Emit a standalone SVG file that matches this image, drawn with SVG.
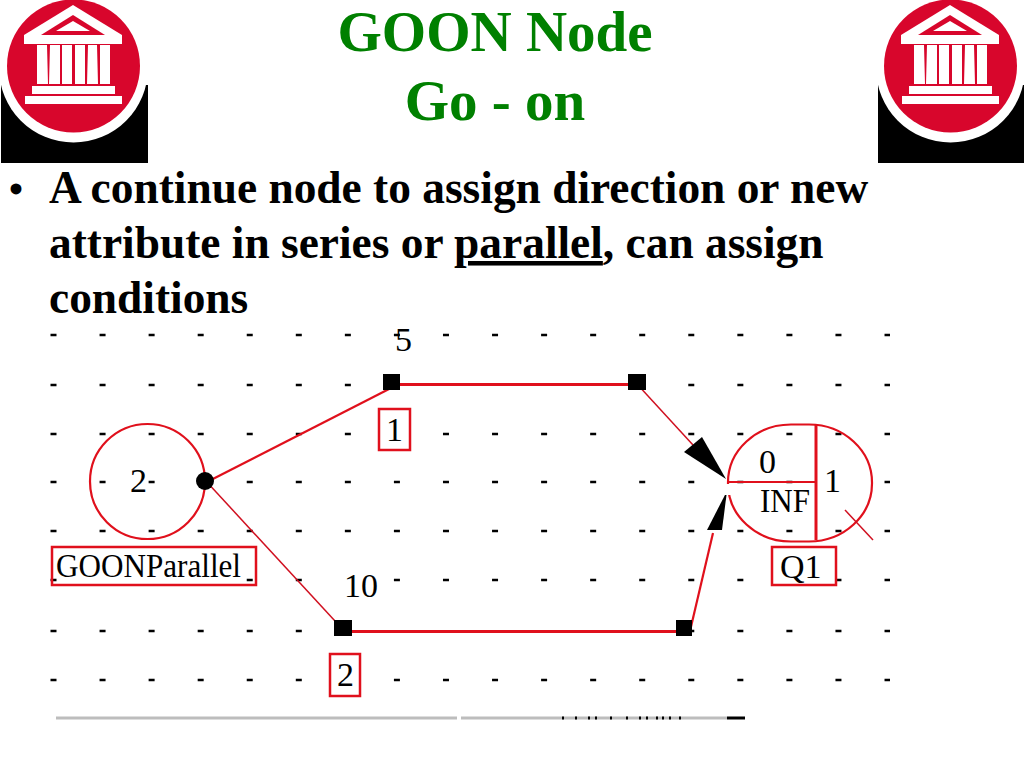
<svg xmlns="http://www.w3.org/2000/svg" width="1024" height="768" viewBox="0 0 1024 768">
<style>
.title{font:bold 57px "Liberation Serif",serif;fill:#008000;text-anchor:middle}
.body{font:bold 45.400px "Liberation Serif",serif;fill:#000}
.lab{font:34px "Liberation Serif",serif;fill:#000}
.grid{stroke:#000;stroke-width:2.5;stroke-dasharray:6 43.06;fill:none}
.box{fill:none;stroke:#e0101c;stroke-width:2.5}
.wire{fill:none;stroke:#e0101c;stroke-width:2.200}
.thin{fill:none;stroke:#d01020;stroke-width:1.500}
.thick{fill:none;stroke:#e0101c;stroke-width:3}
.cover{fill:#fff}
</style>
<defs>
<g id="icon">
<rect x="1" y="85" width="147" height="78" fill="#000"/>
<circle cx="73.500" cy="68" r="74.500" fill="#fff"/>
<circle cx="73.500" cy="66" r="66.500" fill="#d8062c"/>
<path d="M73 5L24 35V44H122V35Z" fill="#fff"/>
<path d="M73 15L41 35H105Z" fill="#d8062c"/>
<path d="M73 21L56 31H90Z" fill="#fff"/>
<path d="M37 45h10l1 39H37zM50 45h10v39H49zM62 45h10v39H62zM75 45h10v39H75zM88 45h9l1 39H87zM100 45h10v39H100z" fill="#fff"/>
<rect x="32" y="86" width="83" height="8" fill="#fff"/>
<rect x="25" y="96" width="97" height="8" fill="#fff"/>
</g>
</defs>
<rect width="1024" height="768" fill="#fff"/>
<use href="#icon" id="icon-left"/>
<use href="#icon" id="icon-right" x="877"/>
<text class="title" x="495" y="51">GOON Node</text>
<text class="title" x="495" y="120">Go - on</text>
<text class="body" x="9" y="203" style="font-size:40px">•</text>
<text class="body" x="49" y="203">A continue node to assign direction or new</text>
<text class="body" x="49" y="258">attribute in series or <tspan text-decoration="underline">parallel</tspan>, can assign</text>
<text class="body" x="49" y="313">conditions</text>
<g id="grid">
<path class="grid" d="M50.500 335H890M50.500 385H890M50.500 434H890M50.500 482H890M50.500 531H890M50.500 580H890M50.500 631H890M50.500 680H890"/>
<rect class="cover" x="60" y="552" width="180" height="30"/>
<rect class="cover" x="340" y="572" width="34" height="16"/>
<rect class="cover" x="776" y="552" width="30" height="30"/>
<rect class="cover" x="383" y="426" width="24" height="20"/>
<rect class="cover" x="336" y="672" width="20" height="18"/>
<rect class="cover" x="825" y="476" width="20" height="12"/>
<rect class="cover" x="395" y="382" width="240" height="6"/>
<rect class="cover" x="348" y="628" width="334" height="6"/>
</g>
<g id="connectors">
<path class="wire" d="M205 483L391 388"/>
<path class="thin" d="M205 480L335 621"/>
<path class="thick" d="M391 384.500H637"/>
<path class="thin" d="M637 384L693 445"/>
<path class="thick" d="M343 631.500H684"/>
<path class="wire" d="M690 631L713 533"/>
<path d="M726 479L684 452L702 437Z" fill="#000"/>
<path d="M727 491L722 530H707Z" fill="#000"/>
</g>
<g id="node-goon">
<circle class="wire" cx="147.500" cy="481.500" r="57.500"/>
<circle cx="205" cy="481" r="9" fill="#000"/>
<text class="lab" x="130" y="492">2</text>
<rect class="box" x="52" y="547" width="204" height="38"/>
<text class="lab" x="56" y="577" textLength="185" lengthAdjust="spacingAndGlyphs">GOONParallel</text>
</g>
<g id="node-a1">
<rect x="383" y="374" width="17" height="16" fill="#000"/>
<text class="lab" x="395" y="351">5</text>
<rect class="box" x="379" y="409" width="31" height="41"/>
<text class="lab" x="386" y="441">1</text>
</g>
<g id="node-a1b"><rect x="628" y="374" width="18" height="16" fill="#000"/></g>
<g id="node-a2">
<rect x="334" y="620" width="18" height="16" fill="#000"/>
<text class="lab" x="344" y="597">10</text>
<rect class="box" x="330" y="654" width="30" height="42"/>
<text class="lab" x="337" y="686">2</text>
</g>
<g id="node-a2b"><rect x="676" y="620" width="16" height="16" fill="#000"/></g>
<g id="node-q1">
<rect class="wire" x="728" y="424.500" width="144" height="117" rx="63" ry="58"/>
<rect class="cover" x="722" y="484" width="9" height="11"/>
<path class="wire" d="M728 482H815"/>
<path class="thick" d="M816 424V540"/>
<path class="thin" d="M845 510L873 540"/>
<text class="lab" x="759" y="473">0</text>
<text class="lab" x="760" y="512" textLength="50" lengthAdjust="spacingAndGlyphs">INF</text>
<text class="lab" x="824" y="492">1</text>
<rect class="box" x="772" y="547" width="64" height="38"/>
<text class="lab" x="780" y="578">Q1</text>
</g>
<g id="bottom-bar">
<path d="M56 718H457M461 718H727" stroke="#bdbdbd" stroke-width="3" fill="none"/>
<rect x="727" y="716.500" width="18" height="3" fill="#000"/>
<path d="M562 718h2M575 718h2M588 718h2M595 718h2M610 718h2M626 718h2M639 718h2M646 718h2M656 718h2M662 718h2M669 718h2M679 718h2" stroke="#000" stroke-width="3" fill="none"/>
</g>
</svg>
